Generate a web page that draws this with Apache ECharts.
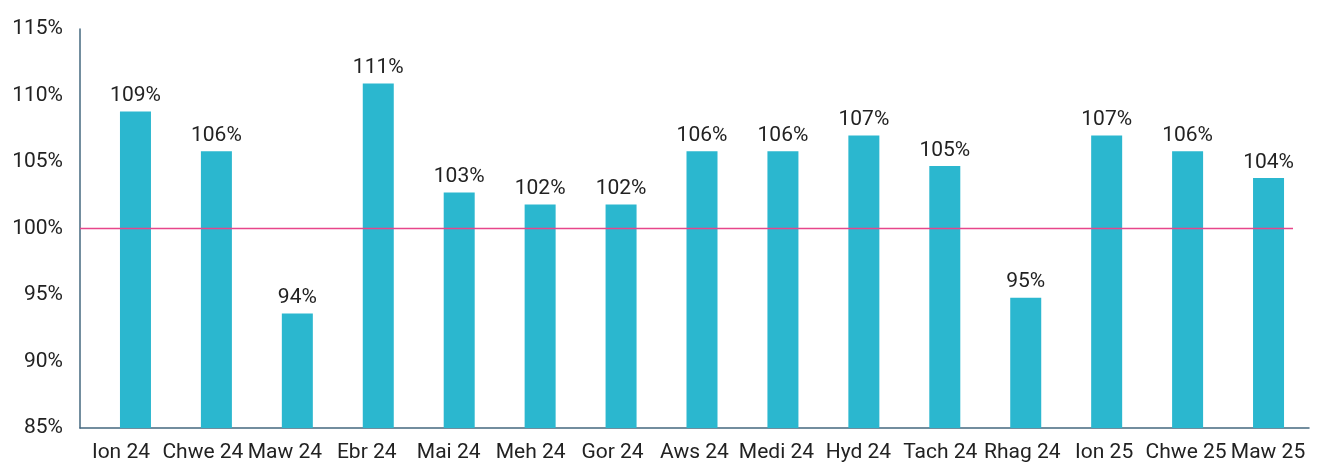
<!DOCTYPE html>
<html>
<head>
<meta charset="utf-8">
<script src="https://cdn.jsdelivr.net/npm/echarts@6/dist/echarts.min.js"></script>
<style>
  html, body { margin: 0; padding: 0; background: #fff; }
  #chart { width: 1321px; height: 468px; }
</style>
</head>
<body>
<div id="chart"></div>
<script>
  // categories (Welsh month abbreviations)
  var months = ['Ion 24', 'Chwe 24', 'Maw 24', 'Ebr 24', 'Mai 24', 'Meh 24', 'Gor 24', 'Aws 24',
                'Medi 24', 'Hyd 24', 'Tach 24', 'Rhag 24', 'Ion 25', 'Chwe 25', 'Maw 25'];
  // values in percent
  var values = [108.8, 105.8, 93.6, 110.9, 102.7, 101.8, 101.8, 105.8,
                105.8, 107.0, 104.7, 94.8, 107.0, 105.8, 103.8];
  var target = 100;

  var container = document.getElementById('chart');
  var myChart = echarts.init(container);
  var font = 'Roboto';
  var axisColor = '#44687f';

  myChart.setOption({
    animation: false,
    // grid 0 carries the axes and labels, grid 1 the bars (slightly inset, as in the original)
    grid: [
      { left: 80, right: 12, top: 29, bottom: 40 },
      { left: 95, right: 12, top: 29, bottom: 40 }
    ],
    xAxis: [
      {
        type: 'category',
        gridIndex: 0,
        data: months,
        axisLine: { show: true, lineStyle: { color: axisColor, width: 1.5 } },
        axisTick: { show: false },
        axisLabel: { color: '#222', fontFamily: font, fontSize: 21, margin: 14, interval: 0 }
      },
      {
        type: 'category',
        gridIndex: 1,
        data: months,
        show: false
      }
    ],
    yAxis: [
      {
        type: 'value',
        gridIndex: 0,
        min: 85,
        max: 115,
        interval: 5,
        splitLine: { show: false },
        axisLine: { show: true, lineStyle: { color: axisColor, width: 1.5 } },
        axisTick: { show: false },
        axisLabel: { color: '#222', fontFamily: font, fontSize: 21, margin: 17, formatter: '{value}%' }
      },
      {
        type: 'value',
        gridIndex: 1,
        min: 85,
        max: 115,
        interval: 5,
        show: false,
        splitLine: { show: false }
      }
    ],
    series: [
      {
        type: 'bar',
        xAxisIndex: 1,
        yAxisIndex: 1,
        data: values,
        barWidth: 31,
        itemStyle: { color: '#2bb7cf' },
        label: {
          show: true,
          position: 'top',
          distance: 5,
          color: '#222',
          fontFamily: font,
          fontSize: 21,
          formatter: function (p) { return Math.round(p.value) + '%'; }
        }
      }
    ]
  });

  // 100% target line
  var ref = myChart.convertToPixel({ yAxisIndex: 1 }, target);
  myChart.setOption({
    graphic: [
      {
        type: 'line',
        z: 100,
        shape: { x1: 80, y1: ref, x2: 1293, y2: ref },
        style: { stroke: '#e8468a', lineWidth: 1.5 }
      }
    ]
  });
</script>
</body>
</html>
